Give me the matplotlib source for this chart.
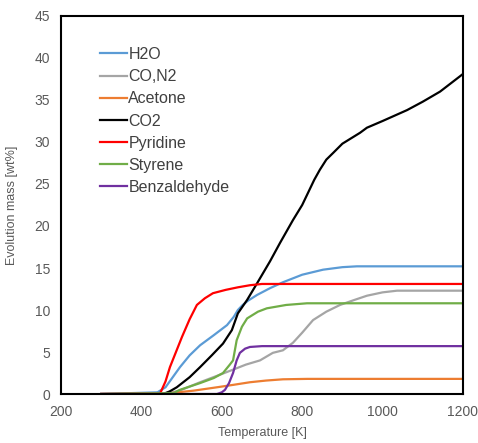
import numpy as np
import matplotlib
matplotlib.use("Agg")
import matplotlib.pyplot as plt

plt.rcParams['font.family'] = ['Liberation Sans', 'DejaVu Sans']

# values (temperature [K], evolution mass [wt%])
h2o_T = [300, 440, 460, 478, 496, 520, 546, 580, 613, 630, 640, 652, 665, 688, 720, 752, 800, 852, 900, 936, 1000, 1200]
h2o_y = [0.0, 0.2, 0.8, 2.0, 3.2, 4.6, 5.8, 7.0, 8.2, 9.2, 10.0, 10.6, 11.1, 11.8, 12.6, 13.3, 14.2, 14.8, 15.1, 15.2, 15.2, 15.2]

con2_T = [300, 470, 500, 546, 590, 628, 660, 695, 727, 752, 777, 800, 827, 860, 894, 930, 961, 1000, 1036, 1200]
con2_y = [0.0, 0.1, 0.5, 1.4, 2.2, 2.9, 3.5, 4.0, 4.9, 5.2, 6.1, 7.3, 8.8, 9.8, 10.6, 11.2, 11.7, 12.1, 12.3, 12.3]

acetone_T = [300, 470, 530, 588, 630, 670, 710, 752, 812, 900, 1200]
acetone_y = [0.0, 0.1, 0.4, 0.8, 1.1, 1.4, 1.6, 1.75, 1.8, 1.8, 1.8]

co2_T = [300, 454, 470, 488, 520, 546, 575, 603, 625, 640, 663, 688, 720, 745, 777, 800, 830, 844, 860, 877, 900, 944, 961, 1000, 1061, 1100, 1143, 1200]
co2_y = [0.0, 0.0, 0.3, 0.8, 2.0, 3.2, 4.6, 6.0, 7.6, 9.6, 11.2, 13.2, 15.8, 18.0, 20.7, 22.5, 25.5, 26.7, 27.9, 28.7, 29.8, 31.1, 31.7, 32.5, 33.8, 34.8, 36.0, 38.1]

pyridine_T = [300, 446, 460, 471, 486, 501, 520, 538, 558, 578, 610, 640, 670, 700, 800, 1200]
pyridine_y = [0.0, 0.0, 1.5, 3.2, 5.0, 6.8, 8.9, 10.6, 11.4, 12.0, 12.4, 12.7, 12.95, 13.1, 13.1, 13.1]

styrene_T = [300, 480, 496, 546, 580, 603, 620, 628, 637, 650, 663, 690, 712, 760, 812, 900, 1200]
styrene_y = [0.0, 0.1, 0.5, 1.3, 1.9, 2.5, 3.5, 4.0, 6.4, 8.0, 9.0, 9.8, 10.2, 10.6, 10.8, 10.8, 10.8]

benz_T = [300, 588, 600, 608, 618, 628, 637, 645, 658, 670, 700, 1200]
benz_y = [0.0, 0.0, 0.2, 0.5, 1.3, 2.5, 4.0, 4.9, 5.4, 5.6, 5.7, 5.7]

series = [
    ("H2O", h2o_T, h2o_y, "#5B9BD5"),
    ("CO,N2", con2_T, con2_y, "#A5A5A5"),
    ("Acetone", acetone_T, acetone_y, "#ED7D31"),
    ("CO2", co2_T, co2_y, "#000000"),
    ("Pyridine", pyridine_T, pyridine_y, "#FF0000"),
    ("Styrene", styrene_T, styrene_y, "#70AD47"),
    ("Benzaldehyde", benz_T, benz_y, "#7030A0"),
]

fig = plt.figure(figsize=(4.78, 4.43), dpi=100)
ax = fig.add_axes([0.1276, 0.1106, 0.8410, 0.8533])

for name, T, y, c in series:
    ax.plot(T, y, color=c, lw=1.6, label=name, solid_joinstyle="round")

ax.set_xlim(200, 1200)
ax.set_ylim(0, 45)
ax.set_xticks([200, 400, 600, 800, 1000, 1200])
ax.set_yticks(range(0, 46, 5))
ax.tick_params(length=0, labelsize=10, labelcolor="#595959", pad=8)
for s in ax.spines.values():
    s.set_linewidth(1.5)
    s.set_color("black")

ax.set_xlabel("Temperature [K]", fontsize=9, color="#595959", labelpad=6)
ax.set_ylabel("Evolution mass [wt%]", fontsize=9, color="#595959", labelpad=12)

leg = ax.legend(loc="upper left", bbox_to_anchor=(0.08, 0.935), frameon=False,
                fontsize=11.5, handlelength=1.7, handletextpad=0.1, labelspacing=0.45,
                borderaxespad=0)
for t in leg.get_texts():
    t.set_color("#404040")

fig.savefig("out.png", dpi=100)
